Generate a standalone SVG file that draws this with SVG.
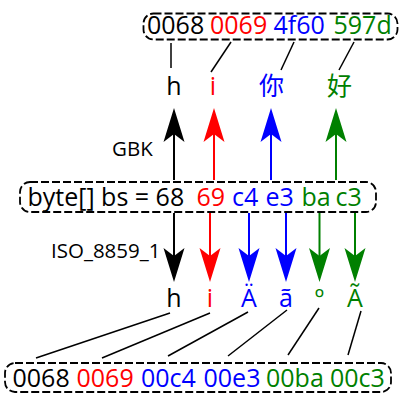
<svg xmlns="http://www.w3.org/2000/svg" width="400" height="400" viewBox="0 0 400 400">
<style>
text{font-family:"Open Sans","Noto Sans","Noto Sans CJK SC",sans-serif;font-size:25px}
.lbl{text-anchor:middle;font-size:25px}
.small{font-size:20.5px}
.k{fill:#000}.r{fill:#ff0000}.b{fill:#0000ff}.g{fill:#008000}
.box{fill:none;stroke:#000;stroke-width:1.8;stroke-dasharray:8 3}
.ln{stroke:#000;stroke-width:1.5;fill:none}
.ar{stroke-width:2;fill:none}
</style>
<defs>
<marker id="mk" markerUnits="userSpaceOnUse" viewBox="-36 -12 37 24" markerWidth="37" markerHeight="24" refX="-26" refY="0" orient="auto"><path d="M0,0 L-34,-10.5 L-26,0 L-34,10.5 Z" fill="#000"/></marker>
<marker id="mr" markerUnits="userSpaceOnUse" viewBox="-36 -12 37 24" markerWidth="37" markerHeight="24" refX="-26" refY="0" orient="auto"><path d="M0,0 L-34,-10.5 L-26,0 L-34,10.5 Z" fill="#ff0000"/></marker>
<marker id="mb" markerUnits="userSpaceOnUse" viewBox="-36 -12 37 24" markerWidth="37" markerHeight="24" refX="-26" refY="0" orient="auto"><path d="M0,0 L-34,-10.5 L-26,0 L-34,10.5 Z" fill="#0000ff"/></marker>
<marker id="mg" markerUnits="userSpaceOnUse" viewBox="-36 -12 37 24" markerWidth="37" markerHeight="24" refX="-26" refY="0" orient="auto"><path d="M0,0 L-34,-10.5 L-26,0 L-34,10.5 Z" fill="#008000"/></marker>
</defs>

<g id="unicode-top">
<rect class="box" x="143.5" y="13.5" width="254" height="26" rx="10"/>
<text y="33.5"><tspan x="147" class="k">0068</tspan><tspan x="210" class="r">0069</tspan><tspan x="273.5" class="b">4f60</tspan><tspan x="333.5" class="g">597d</tspan></text>
</g>

<g id="gbk-chars">
<text class="lbl k" x="174" y="95">h</text>
<text class="lbl r" x="213" y="95">i</text>
<text class="lbl b" x="271.5" y="95">你</text>
<text class="lbl g" x="339.5" y="95">好</text>
</g>

<g id="bytes">
<rect class="box" x="20" y="182" width="356" height="30" rx="10"/>
<text y="205.5"><tspan x="27.5" class="k">byte[] bs = 68</tspan><tspan x="196.5" class="r">69</tspan><tspan x="232" class="b">c4</tspan><tspan x="265.5" class="b">e3</tspan><tspan x="301.5" class="g">ba</tspan><tspan x="335.5" class="g">c3</tspan></text>
</g>

<g id="labels">
<text class="small k" x="112" y="156">GBK</text>
<text class="small k" x="51" y="258">ISO_8859_1</text>
</g>

<g id="iso-chars">
<text class="lbl k" x="174" y="306.5">h</text>
<text class="lbl r" x="210" y="306.5">i</text>
<text class="lbl b" x="249" y="306.5">Ä</text>
<text class="lbl b" x="286" y="306.5">ã</text>
<text class="lbl g" x="319.5" y="306.5">º</text>
<text class="lbl g" x="355" y="306.5">Ã</text>
</g>

<g id="unicode-bottom">
<rect class="box" x="5" y="363" width="386" height="29" rx="10"/>
<text y="386.5"><tspan x="12.5" class="k">0068</tspan><tspan x="76.5" class="r">0069</tspan><tspan x="141" class="b">00c4</tspan><tspan x="203.5" class="b">00e3</tspan><tspan x="266" class="g">00ba</tspan><tspan x="330" class="g">00c3</tspan></text>
</g>

<g id="connectors">
<line class="ln" x1="171" y1="43" x2="171" y2="68"/>
<line class="ln" x1="231" y1="42" x2="211" y2="72"/>
<line class="ln" x1="294" y1="42" x2="281" y2="70"/>
<line class="ln" x1="354" y1="42" x2="339" y2="70"/>

<line class="ar" stroke="#000" x1="174" y1="180" x2="174" y2="134" marker-end="url(#mk)"/>
<line class="ar" stroke="#ff0000" x1="214" y1="180" x2="214" y2="134" marker-end="url(#mr)"/>
<line class="ar" stroke="#0000ff" x1="271" y1="180" x2="271" y2="134" marker-end="url(#mb)"/>
<line class="ar" stroke="#008000" x1="336" y1="180" x2="336" y2="134" marker-end="url(#mg)"/>

<line class="ar" stroke="#000" x1="174" y1="213" x2="174" y2="256" marker-end="url(#mk)"/>
<line class="ar" stroke="#ff0000" x1="210" y1="213" x2="210" y2="256" marker-end="url(#mr)"/>
<line class="ar" stroke="#0000ff" x1="249" y1="213" x2="249" y2="256" marker-end="url(#mb)"/>
<line class="ar" stroke="#0000ff" x1="286" y1="213" x2="286" y2="256" marker-end="url(#mb)"/>
<line class="ar" stroke="#008000" x1="319.5" y1="213" x2="319.5" y2="256" marker-end="url(#mg)"/>
<line class="ar" stroke="#008000" x1="355" y1="213" x2="355" y2="256" marker-end="url(#mg)"/>

<line class="ln" x1="170" y1="313" x2="36" y2="358"/>
<line class="ln" x1="210" y1="313" x2="102" y2="358"/>
<line class="ln" x1="248" y1="312" x2="168" y2="356"/>
<line class="ln" x1="287" y1="310" x2="228" y2="356"/>
<line class="ln" x1="319" y1="308" x2="288" y2="355"/>
<line class="ln" x1="361" y1="311" x2="348" y2="355"/>
</g>
</svg>
